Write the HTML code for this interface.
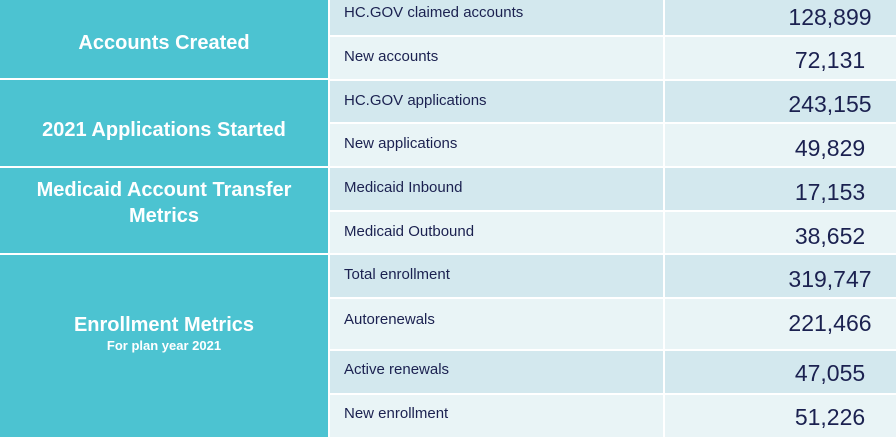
<!DOCTYPE html>
<html><head><meta charset="utf-8"><style>
body{margin:0;width:896px;height:443px;background:#fff;position:relative;overflow:hidden;font-family:"Liberation Sans",Arial,sans-serif}
.t{position:absolute;left:0;width:328px;background:#4cc3d1;color:#fff;font-weight:bold;font-size:20px;display:flex;flex-direction:column;align-items:center;justify-content:center;text-align:center;line-height:26px}
.r{position:absolute;left:330px;width:566px}
.l{position:absolute;left:0;width:333px;height:100%;}
.v{position:absolute;left:335px;width:231px;height:100%}
.lab{position:absolute;left:344px;font-size:15px;color:#1b2150}
.num{position:absolute;left:730px;width:200px;text-align:center;font-size:23px;color:#1b2150}
.d{background:#d3e8ee}.w{background:#e9f4f6}
</style></head><body>
<div class="t" style="top:0;height:78px"><div style="margin-top:8px">Accounts Created</div></div>
<div class="t" style="top:80px;height:86px"><div style="margin-top:14px">2021 Applications Started</div></div>
<div class="t" style="top:168px;height:85px;justify-content:flex-start;padding-top:0"><div style="margin-top:9px">Medicaid Account Transfer<br>Metrics</div></div>
<div class="t" style="top:255px;height:182px"><div style="margin-top:-28px">Enrollment Metrics</div><div style="font-size:13px;line-height:15px">For plan year 2021</div></div>

<div class="r" style="top:0;height:35px"><div class="l d"></div><div class="v d"></div></div>
<div class="r" style="top:37px;height:42px"><div class="l w"></div><div class="v w"></div></div>
<div class="r" style="top:81px;height:41px"><div class="l d"></div><div class="v d"></div></div>
<div class="r" style="top:124px;height:42px"><div class="l w"></div><div class="v w"></div></div>
<div class="r" style="top:168px;height:42px"><div class="l d"></div><div class="v d"></div></div>
<div class="r" style="top:212px;height:41px"><div class="l w"></div><div class="v w"></div></div>
<div class="r" style="top:255px;height:42px"><div class="l d"></div><div class="v d"></div></div>
<div class="r" style="top:299px;height:50px"><div class="l w"></div><div class="v w"></div></div>
<div class="r" style="top:351px;height:42px"><div class="l d"></div><div class="v d"></div></div>
<div class="r" style="top:395px;height:42px"><div class="l w"></div><div class="v w"></div></div>

<div class="lab" style="top:4px">HC.GOV claimed accounts</div>
<div class="lab" style="top:48px">New accounts</div>
<div class="lab" style="top:92px">HC.GOV applications</div>
<div class="lab" style="top:135px">New applications</div>
<div class="lab" style="top:179px">Medicaid Inbound</div>
<div class="lab" style="top:223px">Medicaid Outbound</div>
<div class="lab" style="top:266px">Total enrollment</div>
<div class="lab" style="top:311px">Autorenewals</div>
<div class="lab" style="top:361px">Active renewals</div>
<div class="lab" style="top:405px">New enrollment</div>

<div class="num" style="top:4px">128,899</div>
<div class="num" style="top:47px">72,131</div>
<div class="num" style="top:91px">243,155</div>
<div class="num" style="top:135px">49,829</div>
<div class="num" style="top:179px">17,153</div>
<div class="num" style="top:223px">38,652</div>
<div class="num" style="top:266px">319,747</div>
<div class="num" style="top:310px">221,466</div>
<div class="num" style="top:360px">47,055</div>
<div class="num" style="top:404px">51,226</div>
</body></html>
